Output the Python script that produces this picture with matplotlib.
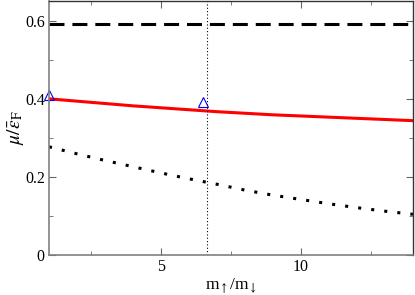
import numpy as np
import matplotlib.pyplot as plt

# data
mass_ratio = [1, 2, 3, 4, 5, 6, 7, 8, 9, 10, 11, 12, 13, 14]
mu_red = [0.400, 0.394, 0.388, 0.382, 0.377, 0.372, 0.367, 0.363, 0.359, 0.356, 0.353, 0.350, 0.347, 0.344]
mu_dotted = [0.277, 0.259, 0.242, 0.226, 0.210, 0.195, 0.181, 0.166, 0.153, 0.142, 0.131, 0.121, 0.112, 0.104]
mu_dashed = [0.592] * len(mass_ratio)
tri_x = [1, 6.5]
tri_y = [0.41, 0.392]
li_k_ratio = 6.64

yticks = [0, 0.2, 0.4, 0.6]
ytick_labels = ['0', '0.2', '0.4', '0.6']
xticks = [5, 10]

plt.rcParams['font.family'] = 'Liberation Serif'
plt.rcParams['mathtext.fontset'] = 'stix'

fig = plt.figure(figsize=(4.15, 2.95), dpi=100)
ax = fig.add_axes([0.118, 0.136, 0.877, 0.861])

ax.plot(mass_ratio, mu_dashed, color='black', lw=2.2, linestyle=(0, (4.9, 2.6)))
ax.plot(mass_ratio, mu_red, color='red', lw=2.2)
ax.plot(mass_ratio, mu_dotted, color='black', lw=2.2, linestyle=(0, (1, 3.3)))
ax.plot(tri_x, tri_y, linestyle='none', marker='^', ms=7, mfc='none', mec='blue', mew=0.8, clip_on=False)
ax.axvline(li_k_ratio, color='black', lw=0.8, linestyle=(0, (1, 2)))

ax.set_xlim(1, 14)
ax.set_ylim(0, 0.651)
ax.set_xticks(xticks)
ax.set_xticks([2.5, 7.5, 12.5], minor=True)
ax.set_yticks(yticks)
ax.set_yticklabels(ytick_labels)
ax.set_yticks([0.1, 0.3, 0.5], minor=True)
ax.tick_params(which='both', direction='in', top=True, right=True, labelsize=11.5, pad=3)
ax.tick_params(which='major', length=5, color='0.4')
ax.tick_params(which='minor', length=3, color='0.4')

for side in ['left', 'bottom']:
    ax.spines[side].set_color('0.5')
    ax.spines[side].set_linewidth(1.2)
for side in ['top', 'right']:
    ax.spines[side].set_color('0.2')
    ax.spines[side].set_linewidth(1.0)

ax.set_xlabel(r'm$_\uparrow$/m$_\downarrow$', fontsize=12.5, labelpad=1)
ax.set_ylabel(r'$\mu/\bar{\epsilon}_\mathrm{F}$', fontsize=14, labelpad=-1)

fig.savefig('out.png', dpi=100)
